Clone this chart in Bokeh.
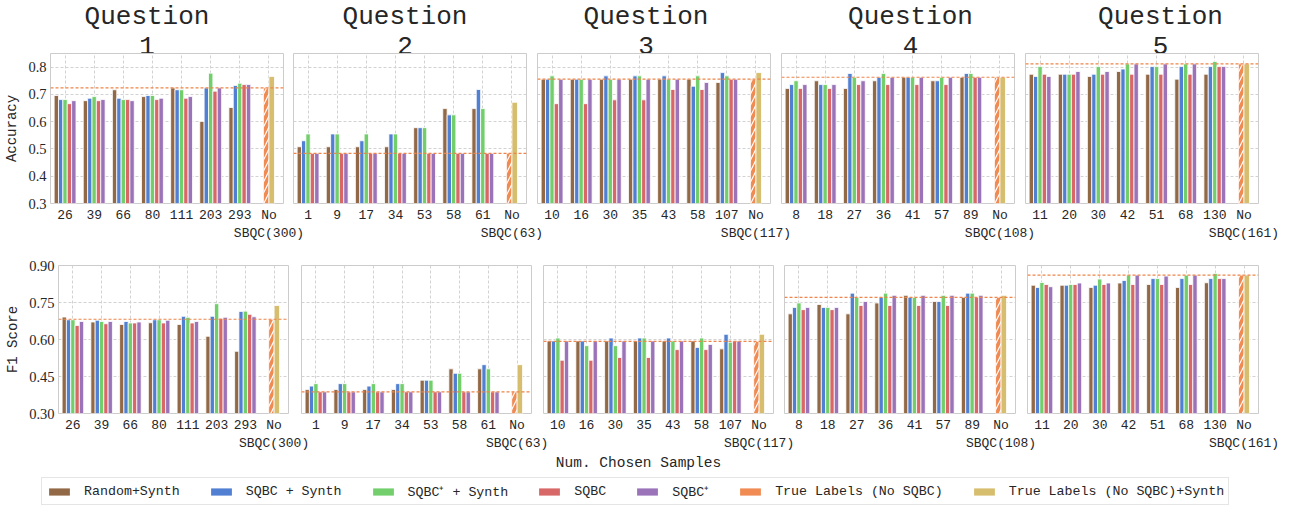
from bokeh.plotting import figure
from bokeh.models import (FixedTicker, Span, Label, Legend, LegendItem, Range1d,
                          PrintfTickFormatter)
from bokeh.layouts import row, column
from bokeh.embed import file_html
from bokeh.resources import INLINE

# ---------------- data ----------------
questions = ["1", "2", "3", "4", "5"]
q_samples = [
    ["26", "39", "66", "80", "111", "203", "293"],
    ["1", "9", "17", "34", "53", "58", "61"],
    ["10", "16", "30", "35", "43", "58", "107"],
    ["8", "18", "27", "36", "41", "57", "89"],
    ["11", "20", "30", "42", "51", "68", "130"],
]
q_totals = [300, 63, 117, 108, 161]

methods = ["Random+Synth", "SQBC + Synth", "SQBC\u207a + Synth", "SQBC", "SQBC\u207a"]
true_names = ["True Labels (No SQBC)", "True Labels (No SQBC)+Synth"]

acc_random_synth = [
    [0.696, 0.677, 0.717, 0.692, 0.724, 0.601, 0.652],
    [0.508, 0.508, 0.508, 0.508, 0.578, 0.648, 0.648],
    [0.756, 0.756, 0.756, 0.756, 0.756, 0.756, 0.744],
    [0.722, 0.750, 0.722, 0.750, 0.763, 0.750, 0.763],
    [0.774, 0.774, 0.766, 0.784, 0.774, 0.756, 0.774],
]
acc_sqbc_synth = [
    [0.681, 0.686, 0.686, 0.696, 0.717, 0.724, 0.733],
    [0.530, 0.555, 0.530, 0.555, 0.578, 0.625, 0.718],
    [0.756, 0.756, 0.768, 0.768, 0.768, 0.730, 0.780],
    [0.736, 0.736, 0.777, 0.763, 0.763, 0.750, 0.777],
    [0.766, 0.774, 0.774, 0.793, 0.802, 0.802, 0.802],
]
acc_sqbcp_synth = [
    [0.681, 0.692, 0.681, 0.696, 0.717, 0.778, 0.741],
    [0.555, 0.555, 0.555, 0.555, 0.578, 0.625, 0.648],
    [0.768, 0.756, 0.756, 0.768, 0.756, 0.768, 0.768],
    [0.750, 0.736, 0.763, 0.777, 0.763, 0.763, 0.777],
    [0.802, 0.774, 0.802, 0.812, 0.802, 0.812, 0.821],
]
acc_sqbc = [
    [0.666, 0.677, 0.681, 0.681, 0.686, 0.712, 0.736],
    [0.484, 0.484, 0.484, 0.484, 0.484, 0.484, 0.484],
    [0.666, 0.666, 0.680, 0.680, 0.718, 0.718, 0.756],
    [0.722, 0.722, 0.736, 0.736, 0.736, 0.736, 0.763],
    [0.774, 0.774, 0.774, 0.774, 0.774, 0.774, 0.802],
]
acc_sqbcp = [
    [0.677, 0.681, 0.677, 0.686, 0.692, 0.724, 0.736],
    [0.484, 0.484, 0.484, 0.484, 0.484, 0.484, 0.484],
    [0.756, 0.756, 0.756, 0.756, 0.756, 0.744, 0.756],
    [0.736, 0.736, 0.750, 0.763, 0.763, 0.763, 0.763],
    [0.766, 0.784, 0.784, 0.812, 0.812, 0.812, 0.802],
]
acc_true = [0.724, 0.484, 0.756, 0.763, 0.812]
acc_true_synth = [0.766, 0.671, 0.780, 0.763, 0.812]

f1_random_synth = [
    [0.691, 0.671, 0.661, 0.668, 0.661, 0.613, 0.552],
    [0.397, 0.397, 0.397, 0.397, 0.435, 0.481, 0.481],
    [0.594, 0.594, 0.594, 0.594, 0.594, 0.594, 0.562],
    [0.704, 0.742, 0.704, 0.748, 0.779, 0.754, 0.771],
    [0.820, 0.820, 0.811, 0.829, 0.823, 0.811, 0.830],
]
f1_sqbc_synth = [
    [0.680, 0.678, 0.673, 0.680, 0.694, 0.694, 0.714],
    [0.411, 0.421, 0.411, 0.421, 0.435, 0.463, 0.498],
    [0.594, 0.594, 0.606, 0.606, 0.606, 0.568, 0.621],
    [0.730, 0.730, 0.788, 0.771, 0.771, 0.754, 0.788],
    [0.811, 0.820, 0.820, 0.839, 0.847, 0.847, 0.847],
]
f1_sqbcp_synth = [
    [0.680, 0.673, 0.667, 0.680, 0.690, 0.745, 0.715],
    [0.421, 0.421, 0.421, 0.421, 0.435, 0.463, 0.481],
    [0.606, 0.575, 0.575, 0.606, 0.594, 0.606, 0.589],
    [0.748, 0.730, 0.771, 0.788, 0.771, 0.779, 0.788],
    [0.831, 0.823, 0.845, 0.861, 0.847, 0.861, 0.868],
]
f1_sqbc = [
    [0.657, 0.664, 0.667, 0.667, 0.667, 0.686, 0.702],
    [0.388, 0.388, 0.388, 0.388, 0.388, 0.388, 0.388],
    [0.516, 0.516, 0.527, 0.527, 0.559, 0.559, 0.594],
    [0.721, 0.721, 0.738, 0.738, 0.738, 0.738, 0.771],
    [0.823, 0.823, 0.823, 0.823, 0.823, 0.823, 0.847],
]
f1_sqbcp = [
    [0.673, 0.673, 0.671, 0.678, 0.673, 0.690, 0.692],
    [0.388, 0.388, 0.388, 0.388, 0.388, 0.388, 0.388],
    [0.594, 0.594, 0.594, 0.594, 0.594, 0.580, 0.594],
    [0.730, 0.730, 0.754, 0.779, 0.779, 0.779, 0.779],
    [0.814, 0.829, 0.829, 0.861, 0.857, 0.861, 0.847],
]
f1_true = [0.682, 0.388, 0.592, 0.771, 0.861]
f1_true_synth = [0.738, 0.498, 0.621, 0.779, 0.861]

acc_ticks = [0.3, 0.4, 0.5, 0.6, 0.7, 0.8]
f1_ticks = [0.30, 0.45, 0.60, 0.75, 0.90]

# ---------------- style ----------------
colors = ["#8c613c", "#4878d0", "#6acc64", "#d65f5f", "#956cb4"]
TRUE_C = "#ee854a"
TRUE_S_C = "#d5bb67"
TXT = "#262626"
MONO = "Liberation Mono"
SERIF = "Liberation Serif"
GRID = "#d2d2d2"
E = 30      # horizontal overlap so long tick labels are not clipped
TH = 64     # title strip height
OV = 12     # vertical overlap of title strip with the first panel row
title_dx = [-20, -5, -8, 12.5, 18.5]  # title offset from panel centre (px)


def make_title(qi, fw, bl, br, first, last):
    t = figure(frame_width=fw, frame_height=TH, x_range=Range1d(0, 1), y_range=Range1d(0, 1),
               output_backend="svg", toolbar_location=None,
               min_border_left=bl, min_border_right=br + (0 if last else E),
               min_border_top=0, min_border_bottom=0,
               x_axis_type=None, y_axis_type=None, outline_line_color=None,
               border_fill_color=None, background_fill_color=None)
    t.grid.visible = False
    if not first:
        t.margin = (0, 0, 0, -E)
    cx = fw / 2 + title_dx[qi]
    t.add_layout(Label(x=cx, y=TH - 16, x_units="screen", y_units="screen",
                       text="Question", text_align="center", text_baseline="middle",
                       text_font=MONO, text_font_size="26px", text_color=TXT))
    t.add_layout(Label(x=cx, y=TH - 45, x_units="screen", y_units="screen",
                       text=questions[qi], text_align="center", text_baseline="middle",
                       text_font=MONO, text_font_size="26px", text_color=TXT))
    return t


def make_panel(qi, series, tv, tsv, ylo, yhi, yticks, fmt, ylabel,
               fw, fh, bl, br, bt, bb, first, last):
    p = figure(frame_width=fw, frame_height=fh,
               x_range=Range1d(-0.5, 7.5), y_range=Range1d(ylo, yhi),
               output_backend="svg", toolbar_location=None,
               min_border_left=bl, min_border_right=br + (0 if last else E),
               min_border_top=bt, min_border_bottom=bb,
               border_fill_color=None, background_fill_color="white",
               outline_line_color="#cccccc", outline_line_width=1)
    if not first:
        p.margin = (0, 0, 0, -E)
    n = len(q_samples[qi])
    for k, (vals, c) in enumerate(zip(series, colors)):
        xs = [i + (k - 2) * 0.15 for i in range(n)]
        p.vbar(x=xs, top=vals[qi], bottom=0, width=0.15, fill_color=c,
               fill_alpha=0.95, line_color="white", line_width=0.8)
    p.vbar(x=[n - 0.095], top=[tv[qi]], bottom=0, width=0.19, fill_color=TRUE_C,
           fill_alpha=0.95, line_color="white", line_width=0.8,
           hatch_pattern="/", hatch_color="white", hatch_scale=11, hatch_weight=1.2)
    p.vbar(x=[n + 0.095], top=[tsv[qi]], bottom=0, width=0.19, fill_color=TRUE_S_C,
           fill_alpha=0.95, line_color="white", line_width=0.8)
    p.add_layout(Span(location=tv[qi], dimension="width", line_color=TRUE_C,
                      line_dash="3 2", line_width=1.2))

    labels = {i: s for i, s in enumerate(q_samples[qi])}
    labels[n] = "No\nSBQC(%d)" % q_totals[qi]
    p.xaxis.ticker = FixedTicker(ticks=list(range(n + 1)))
    p.xaxis.major_label_overrides = labels
    p.xaxis.major_tick_line_color = None
    p.xaxis.minor_tick_line_color = None
    p.xaxis.major_tick_out = 0
    p.xaxis.major_tick_in = 0
    p.xaxis.minor_tick_out = 0
    p.xaxis.axis_line_color = None
    p.xaxis.major_label_standoff = 4
    p.xaxis.major_label_text_font = MONO
    p.xaxis.major_label_text_font_size = "13px"
    p.xaxis.major_label_text_color = TXT

    p.xgrid.ticker = FixedTicker(ticks=list(range(n + 1)))
    p.ygrid.ticker = FixedTicker(ticks=yticks)
    for g in (p.xgrid, p.ygrid):
        g.grid_line_color = GRID
        g.grid_line_dash = "3 2"
        g.grid_line_width = 1

    if first:
        p.yaxis.ticker = FixedTicker(ticks=yticks)
        p.yaxis.formatter = PrintfTickFormatter(format=fmt)
        p.yaxis.major_tick_line_color = None
        p.yaxis.minor_tick_line_color = None
        p.yaxis.major_tick_out = 0
        p.yaxis.major_tick_in = 0
        p.yaxis.minor_tick_out = 0
        p.yaxis.axis_line_color = None
        p.yaxis.major_label_standoff = 4
        p.yaxis.major_label_text_font = SERIF
        p.yaxis.major_label_text_font_size = "14.5px"
        p.yaxis.major_label_text_color = TXT
        p.yaxis.axis_label = ylabel
        p.yaxis.axis_label_standoff = 5
        p.yaxis.axis_label_text_font = MONO
        p.yaxis.axis_label_text_font_size = "14px"
        p.yaxis.axis_label_text_font_style = "normal"
        p.yaxis.axis_label_text_color = TXT
    else:
        p.yaxis.visible = False
    return p


acc_series = [acc_random_synth, acc_sqbc_synth, acc_sqbcp_synth, acc_sqbc, acc_sqbcp]
f1_series = [f1_random_synth, f1_sqbc_synth, f1_sqbcp_synth, f1_sqbc, f1_sqbcp]

top_geo = [(233, 50, 5), (233, 5, 5), (233, 6, 5), (233, 6, 5), (233, 6, 30)]
bot_geo = [(230, 58, 6), (230, 7, 6), (230, 6, 5), (231, 6, 6), (231, 6, 30)]

titles = []
top = []
for qi in range(5):
    fw, bl, br = top_geo[qi]
    titles.append(make_title(qi, fw, bl, br, qi == 0, qi == 4))
    top.append(make_panel(qi, acc_series, acc_true, acc_true_synth, 0.3, 0.85, acc_ticks,
                          "%.1f", "Accuracy", fw, 150, bl, br, 1, 40,
                          qi == 0, qi == 4))
bot = []
for qi in range(5):
    fw, bl, br = bot_geo[qi]
    bot.append(make_panel(qi, f1_series, f1_true, f1_true_synth, 0.3, 0.9, f1_ticks,
                          "%.2f", "F1 Score", fw, 148, bl, br, 22, 40,
                          qi == 0, qi == 4))

# ---------------- legend + x label ----------------
lf = figure(width=1288, height=52, x_range=Range1d(0, 1), y_range=Range1d(0, 1),
            output_backend="svg", toolbar_location=None, min_border=0,
            x_axis_type=None, y_axis_type=None, outline_line_color=None,
            border_fill_color=None)
lf.grid.visible = False
items = []
for m, c in zip(methods, colors):
    r = lf.vbar(x=[-5], top=[-5], bottom=-6, width=0.1, fill_color=c, fill_alpha=0.95,
                line_color=None)
    items.append(LegendItem(label=m, renderers=[r]))
for m, c in zip(true_names, [TRUE_C, TRUE_S_C]):
    r = lf.vbar(x=[-5], top=[-5], bottom=-6, width=0.1, fill_color=c, fill_alpha=0.95,
                line_color=None)
    items.append(LegendItem(label=m, renderers=[r]))
legend = Legend(items=items, orientation="horizontal", location=(41, 0),
                glyph_width=26, glyph_height=9, label_standoff=12, spacing=28,
                padding=4, margin=0, label_height=11,
                label_text_font=MONO, label_text_font_size="13.3px",
                label_text_color=TXT, border_line_color="#cccccc",
                border_line_width=1, background_fill_color="white",
                background_fill_alpha=1)
lf.add_layout(legend, "center")
lf.add_layout(Label(x=638, y=43, x_units="screen", y_units="screen",
                    text="Num. Chosen Samples", text_align="center",
                    text_baseline="middle", text_font=MONO,
                    text_font_size="14.5px", text_color=TXT))

top_row = row(*top)
top_row.margin = (-OV, 0, 0, 0)
layout = column(row(*titles), top_row, row(*bot), lf)
open("out.html", "w").write(file_html(layout, INLINE))
